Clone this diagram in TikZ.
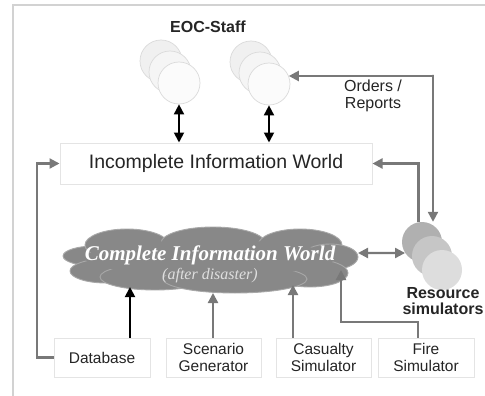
\documentclass[tikz,border=0pt]{standalone}
\usepackage{fontspec}
\setmainfont{Liberation Serif}
\setsansfont{Liberation Sans}
\usetikzlibrary{arrows.meta,calc}
\definecolor{linegray}{HTML}{787878}
\definecolor{boxline}{HTML}{E4E4E4}
\definecolor{framegray}{HTML}{D2D2D2}
\definecolor{txt}{HTML}{252525}
\definecolor{cloudfill}{HTML}{888888}
\definecolor{cloudline}{HTML}{A8A8A8}
\definecolor{personline}{HTML}{DADADA}
\begin{document}
\begin{tikzpicture}[x=1pt,y=-1pt,
  box/.style={draw=boxline, line width=1pt, fill=white, inner sep=0pt,
    font=\sffamily\fontsize{15.5}{17}\selectfont, text=txt, align=center,
    minimum height=39pt},
  person/.style={circle, minimum size=42pt, inner sep=0pt, draw=personline, line width=0.7pt, fill=#1},
  resim/.style={circle, minimum size=40pt, inner sep=0pt, draw=none, fill=#1},
  puff/.style={fill=cloudfill, draw=cloudline, line width=0.9pt},
  garrow/.style={draw=linegray, line width=2.2pt, -{Triangle[length=10pt,width=10pt]}},
  gboth/.style={draw=linegray, line width=2.2pt, {Triangle[length=10pt,width=10pt]}-{Triangle[length=10pt,width=10pt]}},
  barrow/.style={draw=black, line width=1.8pt, -{Triangle[length=10pt,width=10pt]}},
  bboth/.style={draw=black, line width=1.8pt, {Triangle[length=10pt,width=10pt]}-{Triangle[length=10pt,width=10pt]}},
  lbl/.style={font=\sffamily\fontsize{16}{16.5}\selectfont, text=txt, align=center},
  blbl/.style={font=\sffamily\bfseries\fontsize{16}{16.5}\selectfont, text=txt, align=center}]
\useasboundingbox (0,0) rectangle (485,396);
\fill[white] (0,0) rectangle (485,396);
% page frame
\draw[framegray, line width=1.2pt] (13,400) -- (13,5) -- (490,5);

% EOC staff groups
\node[blbl] (eoc) at (208,27) {EOC-Staff};
\node[person=gray!12] (e1a) at (161,61) {};
\node[person=gray!8]  (e1b) at (170,72) {};
\node[person=gray!3]  (e1c) at (179,83) {};
\node[person=gray!12] (e2a) at (251,62) {};
\node[person=gray!8]  (e2b) at (260,73) {};
\node[person=gray!3]  (e2c) at (269,84) {};

% incomplete information world
\node[draw=boxline, line width=1pt, minimum width=312pt, minimum height=41pt, inner sep=0pt,
  font=\sffamily\fontsize{19.5}{22}\selectfont, text=txt] (inc) at (216,163.5) {Incomplete Information World};

% resource simulators
\node[resim=gray!62] (rs1) at (422,242) {};
\node[resim=gray!45] (rs2) at (432,256) {};
\node[resim=gray!27] (rs3) at (442,270) {};
\node[blbl] (rslbl) at (443,301) {Resource\\simulators};

% complete information world (cloud)
\node[minimum width=296pt, minimum height=66pt, inner sep=0pt] (cloud) at (210,260) {};
\path[puff] (95,256) ellipse [x radius=32, y radius=10];
\path[puff] (127,245) ellipse [x radius=42, y radius=16];
\path[puff] (213,243) ellipse [x radius=52, y radius=16];
\path[puff] (300,245) ellipse [x radius=42, y radius=16];
\path[puff] (330,257) ellipse [x radius=28, y radius=13];
\path[puff] (106,271) ellipse [x radius=36, y radius=12];
\path[puff] (155,277) ellipse [x radius=55, y radius=13];
\path[puff] (310,273) ellipse [x radius=38, y radius=14];
\path[puff] (235,279) ellipse [x radius=72, y radius=14];
\fill[cloudfill] (210,258) ellipse [x radius=125, y radius=18];
\node[font=\rmfamily\bfseries\itshape\fontsize{21}{24}\selectfont, text=white] (ciw) at (210,255) {Complete Information World};
\node[font=\rmfamily\itshape\fontsize{16}{18}\selectfont, text=gray!25] (ad) at (210,276) {(after disaster)};

% data sources
\node[box, minimum width=96pt] (db) at (102,357.5) {Database};
\node[box, minimum width=95pt] (sg) at (213.5,357.5) {Scenario\\Generator};
\node[box, minimum width=95pt] (cs) at (323.5,357.5) {Casualty\\Simulator};
\node[box, minimum width=96pt] (fs) at (426,357.5) {Fire\\Simulator};

% staff <-> incomplete world
\draw[bboth] (e1c.south) -- (e1c.south |- inc.north);
\draw[bboth] (e2c.south) -- (e2c.south |- inc.north);

% orders / reports loop
\coordinate (oc) at (433,75);
\draw[gboth] (e2c.22) -- (e2c.22 -| oc) -- (oc) -- (oc |- rs1.north);
\node[lbl] (orders) at (373,96) {Orders /\\Reports};

% resource simulators -> incomplete world
\draw[garrow] (rs1.100) |- (inc.east);

% cloud <-> resource simulators
\coordinate (ce) at (358,253);
\draw[gboth] (ce) -- (rs1.213);

% sources -> cloud
\coordinate (cb1) at (130,287);
\coordinate (cb2) at (213,293);
\coordinate (cb3) at (293,285);
\coordinate (fk) at (341,322);
\coordinate (cb4) at (341,270);
\draw[barrow] (db.north -| cb1) -- (cb1);
\draw[garrow] (sg.north -| cb2) -- (cb2);
\draw[garrow] (cs.north -| cb3) -- (cb3);
\draw[garrow] ($(fs.north)+(-8,0)$) |- (fk) -- (cb4);

% database -> incomplete world
\coordinate (dl) at (37,163.5);
\draw[garrow] (db.west) -| (dl) -- (inc.west);
\end{tikzpicture}
\end{document}
